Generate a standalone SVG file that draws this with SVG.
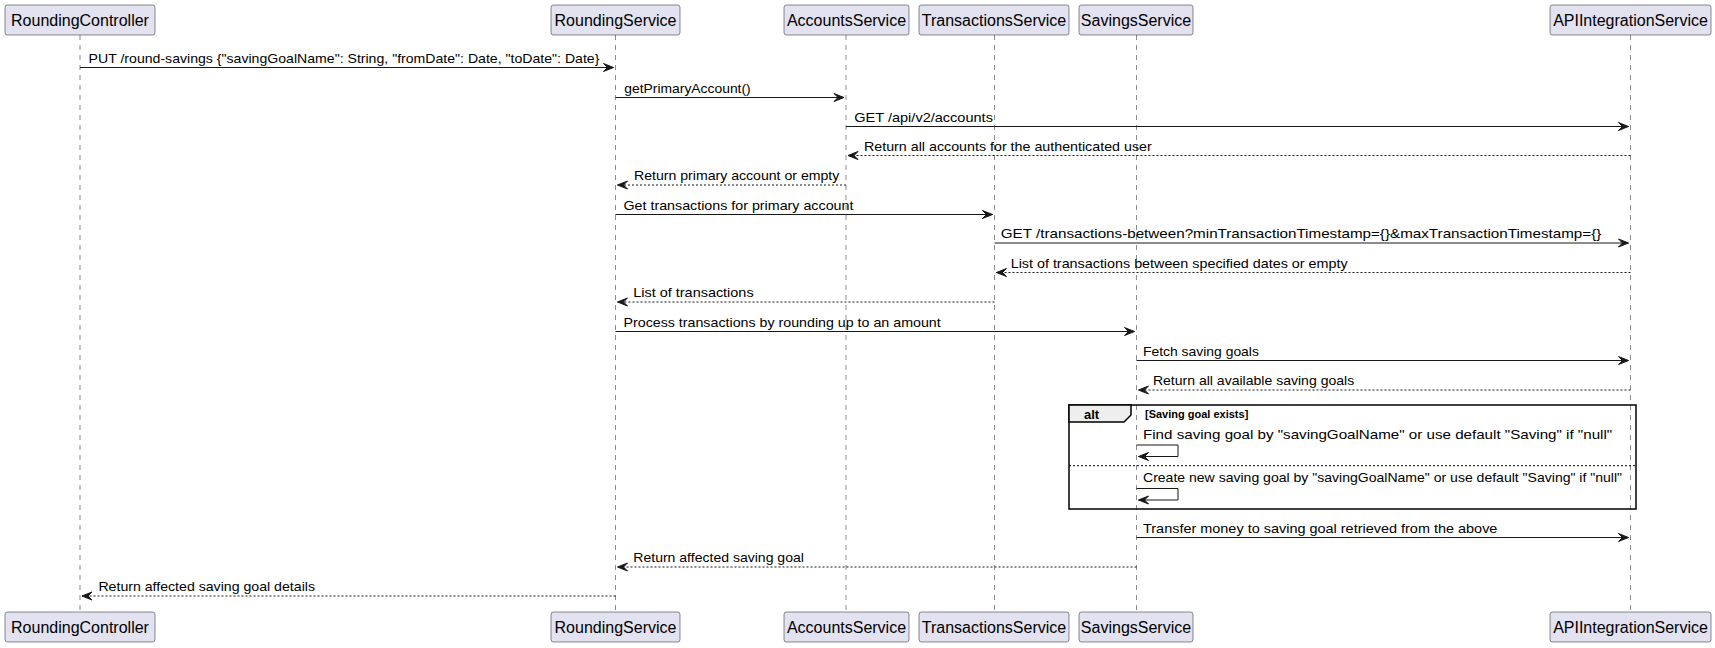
<svg xmlns="http://www.w3.org/2000/svg" width="1715" height="648" viewBox="0 0 1715 648">
<defs>
<style>
.pbox{fill:#E2E2F0;stroke:#181818;stroke-width:0.5}
.pname{font-family:"Liberation Sans",Arial,sans-serif;font-size:16px;fill:#000;text-anchor:middle}
.life{stroke:#181818;stroke-width:0.5;stroke-dasharray:5,5;fill:none}
.msg{stroke:#181818;stroke-width:1;fill:none}
.ret{stroke:#181818;stroke-width:1;stroke-dasharray:2,2;fill:none}
.lbl{font-family:"Liberation Sans",Arial,sans-serif;font-size:13px;fill:#000}
.frame{fill:none;stroke:#000;stroke-width:1.5}
.sep{stroke:#000;stroke-width:1;stroke-dasharray:2,2}
</style>
<marker id="ah" viewBox="-1 -1 12 10" refX="10" refY="4" markerWidth="12" markerHeight="10" markerUnits="userSpaceOnUse" orient="auto">
<polygon points="0,0 10,4 0,8 4,4" fill="#181818" stroke="#181818" stroke-width="1" stroke-dasharray="none"/>
</marker>
</defs>
<rect width="1715" height="648" fill="#FFFFFF"/>

<g id="lifelines">
<line class="life" x1="80" y1="35" x2="80" y2="612"/>
<line class="life" x1="615.5" y1="35" x2="615.5" y2="612"/>
<line class="life" x1="846" y1="35" x2="846" y2="612"/>
<line class="life" x1="994.5" y1="35" x2="994.5" y2="612"/>
<line class="life" x1="1136.5" y1="35" x2="1136.5" y2="612"/>
<line class="life" x1="1630.5" y1="35" x2="1630.5" y2="612"/>
</g>

<g id="RoundingController">
<rect class="pbox" x="5" y="5" width="150" height="30" rx="2.5"/>
<text class="pname" x="80" y="26">RoundingController</text>
<rect class="pbox" x="5" y="612" width="150" height="30" rx="2.5"/>
<text class="pname" x="80" y="633">RoundingController</text>
</g>
<g id="RoundingService">
<rect class="pbox" x="551" y="5" width="129" height="30" rx="2.5"/>
<text class="pname" x="615.5" y="26">RoundingService</text>
<rect class="pbox" x="551" y="612" width="129" height="30" rx="2.5"/>
<text class="pname" x="615.5" y="633">RoundingService</text>
</g>
<g id="AccountsService">
<rect class="pbox" x="784" y="5" width="125" height="30" rx="2.5"/>
<text class="pname" x="846.5" y="26">AccountsService</text>
<rect class="pbox" x="784" y="612" width="125" height="30" rx="2.5"/>
<text class="pname" x="846.5" y="633">AccountsService</text>
</g>
<g id="TransactionsService">
<rect class="pbox" x="919" y="5" width="150" height="30" rx="2.5"/>
<text class="pname" x="994" y="26">TransactionsService</text>
<rect class="pbox" x="919" y="612" width="150" height="30" rx="2.5"/>
<text class="pname" x="994" y="633">TransactionsService</text>
</g>
<g id="SavingsService">
<rect class="pbox" x="1079" y="5" width="114" height="30" rx="2.5"/>
<text class="pname" x="1136" y="26">SavingsService</text>
<rect class="pbox" x="1079" y="612" width="114" height="30" rx="2.5"/>
<text class="pname" x="1136" y="633">SavingsService</text>
</g>
<g id="APIIntegrationService">
<rect class="pbox" x="1550" y="5" width="161" height="30" rx="2.5"/>
<text class="pname" x="1630.5" y="26">APIIntegrationService</text>
<rect class="pbox" x="1550" y="612" width="161" height="30" rx="2.5"/>
<text class="pname" x="1630.5" y="633">APIIntegrationService</text>
</g>

<g id="alt-fragment">
<rect class="frame" x="1069" y="405" width="567" height="104"/>
<polygon points="1069,405 1131,405 1131,415 1124,422 1069,422" fill="#EEEEEE" stroke="#000" stroke-width="1.5"/>
<text x="1084" y="418.5" font-family="Liberation Sans,Arial,sans-serif" font-size="13" font-weight="bold" fill="#000">alt</text>
<text x="1145" y="417.5" font-family="Liberation Sans,Arial,sans-serif" font-size="11" font-weight="bold" fill="#000">[Saving goal exists]</text>
<line class="sep" x1="1069" y1="465.7" x2="1636" y2="465.7"/>
</g>

<g id="connectors">
<line class="msg" x1="80" y1="67.5" x2="613.5" y2="67.5" marker-end="url(#ah)"/>
<text class="lbl" x="88.6" y="62.5" textLength="510.8" lengthAdjust="spacingAndGlyphs">PUT /round-savings {"savingGoalName": String, "fromDate": Date, "toDate": Date}</text>

<line class="msg" x1="615.5" y1="97.5" x2="844" y2="97.5" marker-end="url(#ah)"/>
<text class="lbl" x="624.3" y="92.5" textLength="126.4" lengthAdjust="spacingAndGlyphs">getPrimaryAccount()</text>

<line class="msg" x1="846" y1="126.5" x2="1628.5" y2="126.5" marker-end="url(#ah)"/>
<text class="lbl" x="854.3" y="121.5" textLength="138.6" lengthAdjust="spacingAndGlyphs">GET /api/v2/accounts</text>

<line class="ret" x1="1630.5" y1="155.5" x2="848" y2="155.5" marker-end="url(#ah)"/>
<text class="lbl" x="864" y="150.5" textLength="287.7" lengthAdjust="spacingAndGlyphs">Return all accounts for the authenticated user</text>

<line class="ret" x1="846" y1="185" x2="617.5" y2="185" marker-end="url(#ah)"/>
<text class="lbl" x="634" y="180" textLength="205.3" lengthAdjust="spacingAndGlyphs">Return primary account or empty</text>

<line class="msg" x1="615.5" y1="214.5" x2="992.5" y2="214.5" marker-end="url(#ah)"/>
<text class="lbl" x="623.5" y="209.5" textLength="229.9" lengthAdjust="spacingAndGlyphs">Get transactions for primary account</text>

<line class="msg" x1="994.5" y1="243" x2="1628.5" y2="243" marker-end="url(#ah)"/>
<text class="lbl" x="1000.8" y="238" textLength="600.5" lengthAdjust="spacingAndGlyphs">GET /transactions-between?minTransactionTimestamp={}&amp;maxTransactionTimestamp={}</text>

<line class="ret" x1="1630.5" y1="272.5" x2="996.5" y2="272.5" marker-end="url(#ah)"/>
<text class="lbl" x="1010.7" y="267.5" textLength="336.9" lengthAdjust="spacingAndGlyphs">List of transactions between specified dates or empty</text>

<line class="ret" x1="994.5" y1="302" x2="617.5" y2="302" marker-end="url(#ah)"/>
<text class="lbl" x="633.3" y="297" textLength="120.3" lengthAdjust="spacingAndGlyphs">List of transactions</text>

<line class="msg" x1="615.5" y1="331.5" x2="1134.5" y2="331.5" marker-end="url(#ah)"/>
<text class="lbl" x="623.5" y="326.5" textLength="317.2" lengthAdjust="spacingAndGlyphs">Process transactions by rounding up to an amount</text>

<line class="msg" x1="1136.5" y1="360.5" x2="1628.5" y2="360.5" marker-end="url(#ah)"/>
<text class="lbl" x="1143" y="355.5" textLength="115.9" lengthAdjust="spacingAndGlyphs">Fetch saving goals</text>

<line class="ret" x1="1630.5" y1="390" x2="1138.5" y2="390" marker-end="url(#ah)"/>
<text class="lbl" x="1152.9" y="385" textLength="201.3" lengthAdjust="spacingAndGlyphs">Return all available saving goals</text>

<polyline class="msg" points="1136.5,445 1178,445 1178,456.5 1138.5,456.5" marker-end="url(#ah)"/>
<text class="lbl" x="1143" y="438.5" textLength="469.2" lengthAdjust="spacingAndGlyphs">Find saving goal by "savingGoalName" or use default "Saving" if "null"</text>

<polyline class="msg" points="1136.5,488.5 1178,488.5 1178,500 1138.5,500" marker-end="url(#ah)"/>
<text class="lbl" x="1143" y="482" textLength="479.1" lengthAdjust="spacingAndGlyphs">Create new saving goal by "savingGoalName" or use default "Saving" if "null"</text>

<line class="msg" x1="1136.5" y1="537.5" x2="1628.5" y2="537.5" marker-end="url(#ah)"/>
<text class="lbl" x="1143" y="532.5" textLength="354.4" lengthAdjust="spacingAndGlyphs">Transfer money to saving goal retrieved from the above</text>

<line class="ret" x1="1136.5" y1="567" x2="617.5" y2="567" marker-end="url(#ah)"/>
<text class="lbl" x="633.3" y="562" textLength="170.6" lengthAdjust="spacingAndGlyphs">Return affected saving goal</text>

<line class="ret" x1="615.5" y1="596" x2="82" y2="596" marker-end="url(#ah)"/>
<text class="lbl" x="98.4" y="591" textLength="216.6" lengthAdjust="spacingAndGlyphs">Return affected saving goal details</text>
</g>
</svg>
